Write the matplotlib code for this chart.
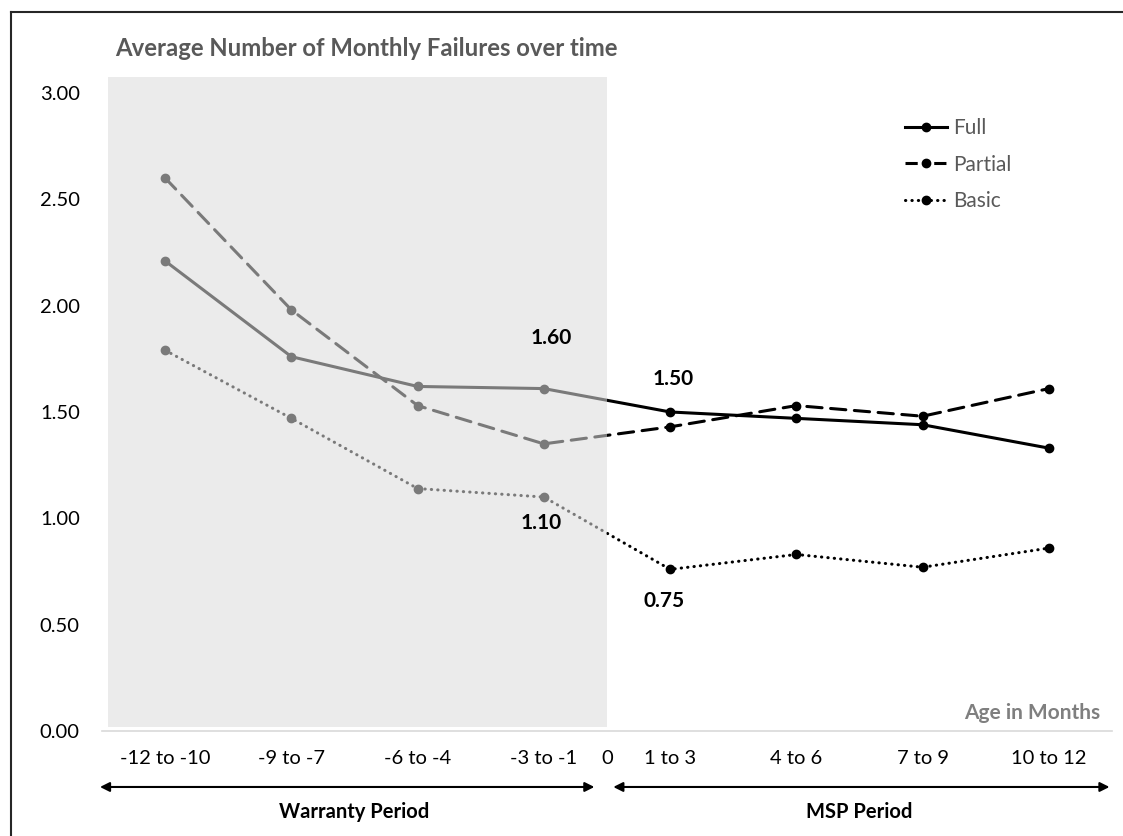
import matplotlib
matplotlib.use('Agg')
import matplotlib.pyplot as plt
from matplotlib.patches import Rectangle
from matplotlib.lines import Line2D

plt.rcParams['font.family'] = ['Lato', 'DejaVu Sans']

categories = ['-12 to -10', '-9 to -7', '-6 to -4', '-3 to -1', '0', '1 to 3', '4 to 6', '7 to 9', '10 to 12']
cat_pos = [0, 1, 2, 3, 3.5, 4, 5, 6, 7]
data_cats = ['-12 to -10', '-9 to -7', '-6 to -4', '-3 to -1', '1 to 3', '4 to 6', '7 to 9', '10 to 12']
full = [2.21, 1.76, 1.62, 1.61, 1.50, 1.47, 1.44, 1.33]
partial = [2.60, 1.98, 1.53, 1.35, 1.43, 1.53, 1.48, 1.61]
basic = [1.79, 1.47, 1.14, 1.10, 0.76, 0.83, 0.77, 0.86]
yticks = [0, 0.5, 1.0, 1.5, 2.0, 2.5, 3.0]

# callouts: text, series, category
callouts = [('1.60', 'Full', '-3 to -1'), ('1.50', 'Full', '1 to 3'),
            ('1.10', 'Basic', '-3 to -1'), ('0.75', 'Basic', '1 to 3')]
callout_offsets = [(7, 51), (3, 33), (-3, -26), (-6, -32)]

xs = [cat_pos[categories.index(c)] for c in data_cats]
series = {'Full': full, 'Partial': partial, 'Basic': basic}
styles = {'Full': '-', 'Partial': (0, (5, 2.8)), 'Basic': (0, (0.1, 2.0))}
# legend handles are short, so the dash pattern is tuned to leave the marker visible
leg_styles = {'Full': '-', 'Partial': (0, (4, 5.4)), 'Basic': (0, (0.1, 2.0))}

fig = plt.figure(figsize=(11.23, 8.36), dpi=100)
ax = fig.add_axes([102/1123, 1-731/836, 1010/1123, 654/836])
ax.set_xlim(-0.5, 7.5)
ax.set_ylim(0, 3.075)

ax.axvspan(-0.45, 3.5, ymin=0.006, ymax=1, color='#ebebeb', lw=0, zorder=0)

left_clip = Rectangle((-1, -1), 4.5, 6, transform=ax.transData)
right_clip = Rectangle((3.5, -1), 5, 6, transform=ax.transData)

for name, vals in series.items():
    for col, clip in [('#7a7a7a', left_clip), ('black', right_clip)]:
        ln, = ax.plot(xs, vals, linestyle=styles[name], color=col, lw=2.2,
                      marker='o', ms=6, dash_capstyle='round', zorder=3)
        ln.set_clip_path(clip)

for (txt, s, c), off in zip(callouts, callout_offsets):
    i = data_cats.index(c)
    ax.annotate(txt, xy=(xs[i], series[s][i]), xytext=off, textcoords='offset pixels',
                ha='center', va='center', fontsize=15, fontweight='bold', color='black')

ax.set_xticks(cat_pos)
ax.set_xticklabels(categories)
ax.set_yticks(yticks)
ax.set_yticklabels(['%.2f' % v for v in yticks])
ax.tick_params(length=0, labelsize=14.5, colors='black')
ax.tick_params(axis='x', pad=13.5)
ax.tick_params(axis='y', pad=16)
for sp in ['top', 'right', 'left']:
    ax.spines[sp].set_visible(False)
ax.spines['bottom'].set_color('#d9d9d9')
ax.spines['bottom'].set_linewidth(1.2)

handles = [Line2D([], [], color='black', lw=2.2, linestyle=leg_styles[n], marker='o', ms=6,
                  dash_capstyle='butt') for n in series]
handles[2].set_dash_capstyle('round')
leg = ax.legend(handles, list(series), loc='upper left', frameon=False,
                bbox_to_anchor=(905/1123, 1-118/836), bbox_transform=fig.transFigure,
                borderpad=0, borderaxespad=0, handlelength=2.0, handletextpad=0.3,
                labelspacing=0.8, numpoints=1, fontsize=15)
for t in leg.get_texts():
    t.set_color('#595959')

ax.text(0.988, 0.0275, 'Age in Months', transform=ax.transAxes, ha='right', va='center',
        fontsize=15, fontweight='bold', color='#7f7f7f')

fig.text(115/1123, 1-48/836, 'Average Number of Monthly Failures over time', ha='left',
         va='center', fontsize=17.2, fontweight='bold', color='#595959')

arrow_y = -0.0856
for x0, x1, label, xc in [(-0.516, 3.40, 'Warranty Period', 1.5), (3.55, 7.48, 'MSP Period', 5.5)]:
    ax.annotate('', xy=(x1, arrow_y), xytext=(x0, arrow_y), xycoords=('data', 'axes fraction'),
                arrowprops=dict(arrowstyle='<|-|>', color='black', lw=1.5, mutation_scale=14,
                                shrinkA=0, shrinkB=0), annotation_clip=False)
    ax.text(xc, -0.124, label, transform=ax.get_xaxis_transform(), ha='center', va='center',
            fontsize=14.5, fontweight='bold', color='black')

fig.add_artist(Line2D([11/1123, 11/1123], [0, 1-12/836], transform=fig.transFigure,
                      color='#262626', lw=1.5))
fig.add_artist(Line2D([11/1123, 1], [1-12/836, 1-12/836], transform=fig.transFigure,
                      color='#262626', lw=1.5))

fig.savefig('out.png', dpi=100)
